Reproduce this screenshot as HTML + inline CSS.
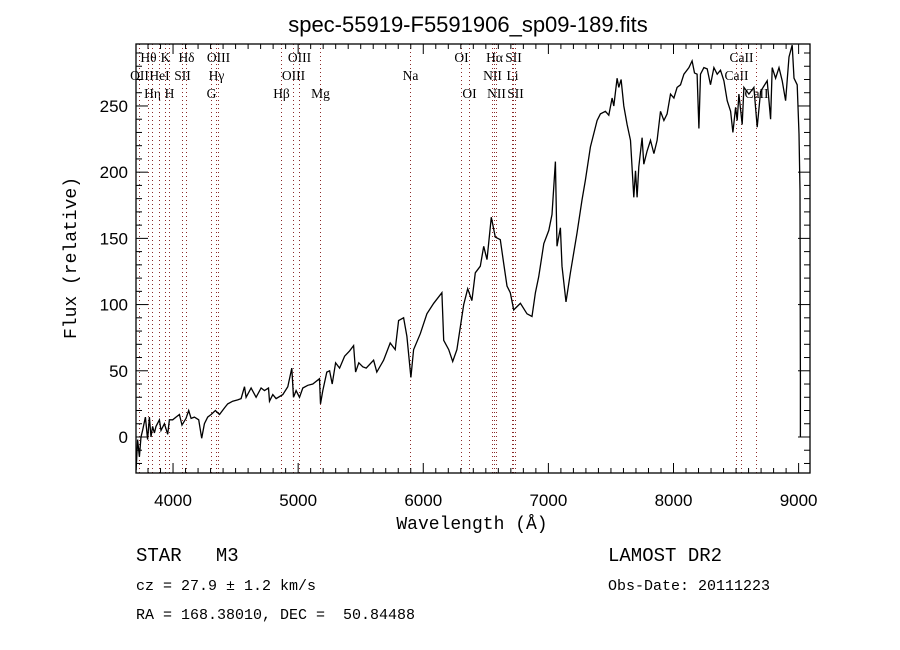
<!DOCTYPE html>
<html><head><meta charset="utf-8"><style>
html,body{margin:0;padding:0;background:#fff}
svg{display:block}
</style></head><body>
<svg id="chart" width="900" height="650" xmlns="http://www.w3.org/2000/svg" font-family="Liberation Sans, sans-serif">
<rect width="900" height="650" fill="#fff"/>
<text x="468" y="32" font-size="22" text-anchor="middle">spec-55919-F5591906_sp09-189.fits</text>
<text transform="translate(76,258) rotate(-90)" font-size="18" text-anchor="middle" font-family="Liberation Mono, monospace">Flux (relative)</text>
<text x="472" y="529" font-size="18" text-anchor="middle" font-family="Liberation Mono, monospace">Wavelength (Å)</text>
<g id="lines"></g>
<g id="ticks"></g>
<path id="spec" fill="none" stroke="#000" stroke-width="1.3" stroke-linejoin="miter"/>
<rect x="136" y="44" width="674" height="429" fill="none" stroke="#000" stroke-width="1.3"/>
<g font-family="Liberation Mono, monospace" style="white-space:pre">
<text x="136" y="561" font-size="19" xml:space="preserve">STAR   M3</text>
<text x="136" y="590" font-size="15" xml:space="preserve">cz = 27.9 ± 1.2 km/s</text>
<text x="136" y="619" font-size="15" xml:space="preserve">RA = 168.38010, DEC =  50.84488</text>
<text x="608" y="561" font-size="19">LAMOST DR2</text>
<text x="608" y="590" font-size="15">Obs-Date: 20111223</text>
</g>
</svg>
<script>
const wavelengths=[3705,3717,3731,3744,3757,3779,3797,3811,3824,3837,3851,3864,3891,3904,3931,3957,3971,3997,4024,4051,4072,4104,4125,4144,4171,4205,4229,4251,4277,4304,4339,4371,4411,4437,4477,4517,4544,4571,4584,4624,4664,4704,4731,4763,4771,4797,4824,4877,4917,4949,4963,4984,5011,5037,5077,5117,5171,5179,5197,5229,5251,5272,5299,5331,5371,5411,5443,5459,5485,5517,5544,5603,5629,5683,5736,5776,5803,5843,5869,5901,5923,5976,6029,6083,6149,6163,6203,6235,6269,6296,6323,6355,6389,6416,6456,6483,6509,6544,6576,6616,6643,6669,6696,6723,6776,6829,6869,6896,6923,6963,7003,7029,7056,7069,7096,7109,7141,7176,7229,7269,7296,7336,7389,7416,7456,7483,7509,7523,7549,7563,7581,7603,7629,7656,7683,7696,7709,7723,7749,7763,7789,7816,7843,7869,7896,7923,7949,7976,8003,8029,8056,8083,8123,8149,8168,8189,8203,8216,8243,8269,8296,8323,8349,8376,8403,8429,8456,8475,8496,8509,8523,8549,8563,8603,8643,8669,8696,8749,8776,8789,8816,8843,8869,8896,8923,8949,8963,8989,9003,9011,9014,9014];
const fluxValues=[-25,-2,-15,0,5,15,-2,15,0,8,3,8,13,5,10,2,13,13,15,17,9,14,20,14,15,13,-1,10,15,17,20,17,22,25,27,28,29,38,30,37,30,37,35,37,27,32,29,32,38,52,30,35,30,37,39,40,44,25,35,49,50,40,56,52,61,65,69,49,56,53,52,58,49,58,71,66,88,90,76,45,66,78,93,101,109,73,66,57,66,83,100,112,103,124,129,144,134,166,151,149,131,114,109,96,101,93,91,109,121,146,156,168,208,144,158,129,102,124,154,179,194,219,239,244,246,243,256,250,271,264,270,250,236,224,181,201,181,204,226,206,216,224,214,224,246,239,244,259,256,264,266,274,279,284,275,274,233,274,279,278,266,279,274,277,269,254,246,230,249,239,259,236,264,259,264,234,261,269,240,279,271,279,269,254,287,296,271,266,229,186,43,0];
const xTicks=[4000,5000,6000,7000,8000,9000];
const yTicks=[0,50,100,150,200,250];
const lineNames=["OII","Hθ","Hη","HeI","K","H","SII","Hδ","G","Hγ","OIII","Hβ","OIII","OIII","Mg","Na","OI","OI","NII","Hα","NII","Li","SII","SII","CaII","CaII","CaII"];
const lineWaves=[3727,3798,3835,3889,3934,3968,4072,4102,4304,4341,4363,4861,4959,5007,5175,5894,6300,6364,6548,6563,6583,6708,6717,6731,8498,8542,8662];
const lineRows=[1,0,2,1,0,2,1,0,2,1,0,2,1,0,2,1,0,2,1,0,2,1,0,2,1,0,2];
const X0=3704,X1=9091,Y0=-27.2,Y1=296.8,L=136,R=810,T=44,B=473;
const sx=v=>L+(v-X0)/(X1-X0)*(R-L);
const sy=v=>B-(v-Y0)/(Y1-Y0)*(B-T);
const NS="http://www.w3.org/2000/svg";
function mk(tag,attrs,parent){const e=document.createElementNS(NS,tag);for(const k in attrs)e.setAttribute(k,attrs[k]);parent.appendChild(e);return e;}
const tg=document.getElementById('ticks');
for(let w=3800;w<=9000;w+=100){const x=sx(w);const major=w%1000===0;const len=major?10:5;
 const t1=mk('line',{x1:x,x2:x,y1:B,y2:B-len,stroke:'#000'},tg);
 
 
 const t2=mk('line',{x1:x,x2:x,y1:T,y2:T+len,stroke:'#000'},tg);
 
 }
xTicks.forEach(w=>{const t=mk('text',{x:sx(w),y:B+33,'font-size':17,'text-anchor':'middle'},tg);t.textContent=w;
 
 });
for(let f=-20;f<=290;f+=10){const y=sy(f);const major=f%50===0;const len=major?12:6;
 const t1=mk('line',{x1:L,x2:L+len,y1:y,y2:y,stroke:'#000'},tg);
 
 
 const t2=mk('line',{x1:R,x2:R-len,y1:y,y2:y,stroke:'#000'},tg);
 
 }
yTicks.forEach(f=>{const t=mk('text',{x:L-8,y:sy(f)+6,'font-size':17,'text-anchor':'end'},tg);t.textContent=f;
 
 });
const lg=document.getElementById('lines');
lineWaves.forEach((w,i)=>{const x=Math.round(sx(w))+0.5;
 const l=mk('line',{x1:x,x2:x,y1:T,y2:B,stroke:'#8b2a2a','stroke-width':1,'stroke-dasharray':'1,3'},lg);
 
 
 const t=mk('text',{x:x,y:62+lineRows[i]*18,'font-size':13.5,'text-anchor':'middle','font-family':'Liberation Serif, serif'},lg);
 t.textContent=lineNames[i];
 
 });
let d='';wavelengths.forEach((w,i)=>{d+=(i?'L':'M')+sx(w).toFixed(1)+','+sy(fluxValues[i]).toFixed(1);});
document.getElementById('spec').setAttribute('d',d);
</script>
</body></html>
